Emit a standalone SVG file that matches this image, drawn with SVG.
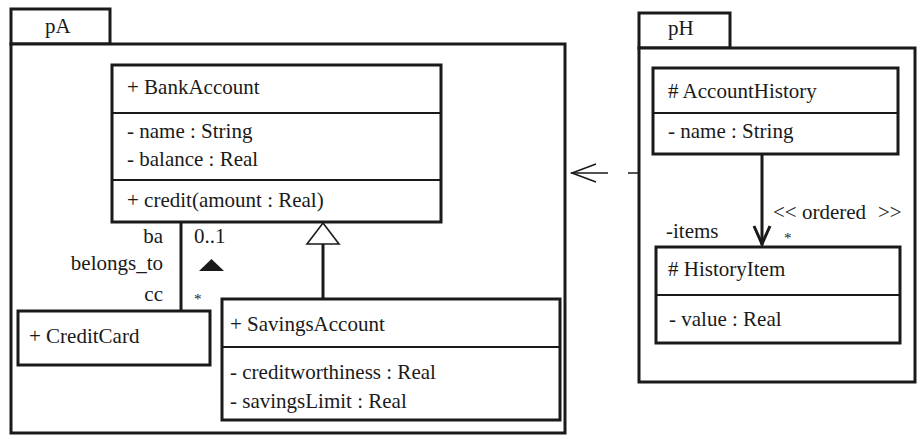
<svg xmlns="http://www.w3.org/2000/svg" width="917" height="436" viewBox="0 0 917 436">
  <style>
    .box { fill: #fff; stroke: #1a1a1a; stroke-width: 3; }
    .pkg { fill: #fff; stroke: #1a1a1a; stroke-width: 3; }
    .div { stroke: #1a1a1a; stroke-width: 2; }
    .edge { fill: none; stroke: #1a1a1a; stroke-width: 3; }
    .thin { fill: none; stroke: #1a1a1a; stroke-width: 1.6; }
    .end { text-anchor: end; }
    .star { font-size: 15px; }
  </style>

  <g font-family="'Liberation Serif', 'DejaVu Serif', serif" font-size="21" fill="#1a1a1a">

  <!-- package pA -->
  <g id="pkg-pA">
    <rect class="pkg" x="11" y="9" width="99" height="35"/>
    <rect class="pkg" x="11" y="44" width="554" height="389"/>
    <text x="45" y="33">pA</text>
  </g>

  <!-- package pH -->
  <g id="pkg-pH">
    <rect class="pkg" x="639" y="13" width="91" height="35"/>
    <rect class="pkg" x="639" y="48" width="276" height="334"/>
    <text x="668" y="35">pH</text>
  </g>

  <g id="BankAccount">
    <rect class="box" x="112" y="65" width="329" height="157"/>
    <line class="div" x1="112" y1="113" x2="441" y2="113"/>
    <line class="div" x1="112" y1="180" x2="441" y2="180"/>
    <text x="127" y="94">+ BankAccount</text>
    <text x="127" y="138">- name : String</text>
    <text x="127" y="166">- balance : Real</text>
    <text x="127" y="207">+ credit(amount : Real)</text>
  </g>

  <g id="CreditCard">
    <rect class="box" x="18" y="311" width="192" height="54"/>
    <text x="29" y="343">+ CreditCard</text>
  </g>

  <g id="SavingsAccount">
    <rect class="box" x="222" y="299" width="338" height="121"/>
    <line class="div" x1="222" y1="347" x2="560" y2="347"/>
    <text x="230" y="331">+ SavingsAccount</text>
    <text x="230" y="379">- creditworthiness : Real</text>
    <text x="230" y="408">- savingsLimit : Real</text>
  </g>

  <g id="AccountHistory">
    <rect class="box" x="653" y="68" width="245" height="86"/>
    <line class="div" x1="653" y1="113" x2="898" y2="113"/>
    <text x="668" y="98"># AccountHistory</text>
    <text x="668" y="138">- name : String</text>
  </g>

  <g id="HistoryItem">
    <rect class="box" x="656" y="247" width="244" height="96"/>
    <line class="div" x1="656" y1="295" x2="900" y2="295"/>
    <text x="668" y="276"># HistoryItem</text>
    <text x="669" y="326">- value : Real</text>
  </g>

  <g id="connectors">
    <!-- belongs_to association -->
    <line class="edge" x1="181" y1="222" x2="181" y2="311"/>
    <text class="end" x="163" y="243">ba</text>
    <text class="end" x="163" y="270">belongs_to</text>
    <text class="end" x="163" y="301">cc</text>
    <text x="194" y="243">0..1</text>
    <polygon points="199,271 211.5,259 224,271" fill="#1a1a1a"/>
    <text class="star" x="194" y="304">*</text>

    <!-- generalization SavingsAccount -> BankAccount -->
    <line class="edge" x1="323" y1="299" x2="323" y2="244"/>
    <polygon points="323,223 339,244 307,244" fill="#fff" stroke="#1a1a1a" stroke-width="1.6"/>

    <!-- dependency pH -> pA -->
    <line class="thin" x1="571" y1="173" x2="639" y2="173" stroke-dasharray="37 20"/>
    <polyline class="thin" points="596,164 572,173 596,182"/>

    <!-- directed association AccountHistory -> HistoryItem -->
    <line class="edge" x1="762" y1="154" x2="762" y2="245"/>
    <polyline class="edge" points="754,226 762,244 770,226" stroke-width="2.5"/>
    <text x="773" y="219">&lt;&lt; ordered</text>
    <text x="878" y="219">&gt;&gt;</text>
    <text x="666" y="238">-items</text>
    <text class="star" x="784" y="243">*</text>
  </g>

  </g>
</svg>
